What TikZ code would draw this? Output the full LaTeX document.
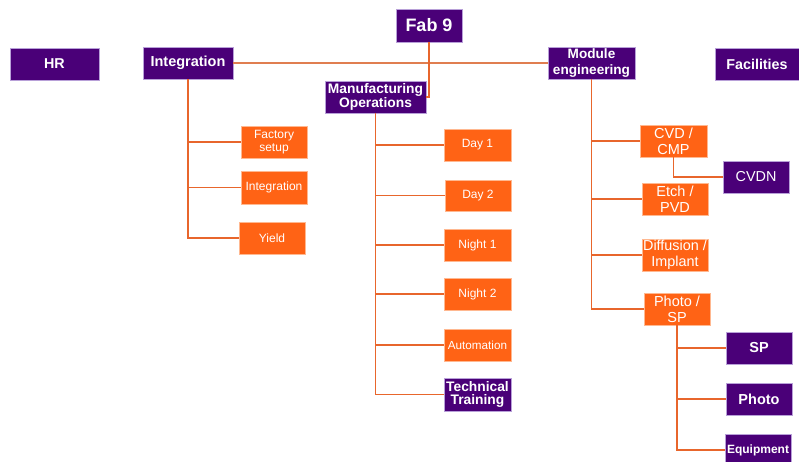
\documentclass[tikz,border=0pt]{standalone}
\usepackage{fontspec}
\setmainfont{Liberation Sans}
\definecolor{purp}{HTML}{4A0078}
\definecolor{purpedge}{HTML}{B8A0D8}
\definecolor{orng}{HTML}{FF6315}
\definecolor{orngedge}{HTML}{FFB890}
\definecolor{link}{HTML}{E8662C}
\definecolor{linklight}{HTML}{E07E50}
\tikzset{
  pbox/.style={fill=purp, draw=purpedge, line width=0.6pt, text=white, font=\bfseries\fontsize{13}{13}\selectfont, align=center, inner sep=0pt},
  obox/.style={fill=orng, draw=orngedge, line width=0.6pt, text=white, font=\fontsize{12}{12.7}\selectfont, align=center, inner sep=0pt},
  conn/.style={draw=link, line width=1.5pt},
  sz/.style 2 args={minimum width=#1pt, minimum height=#2pt}
}
\begin{document}
\begin{tikzpicture}[x=1pt,y=-1pt]
\clip (0,0) rectangle (799,462);
\useasboundingbox (0,0) rectangle (799,462);
% top level
\node[pbox, sz={66}{33}, font=\bfseries\fontsize{18}{18}\selectfont] (fab) at (429,25.5) {Fab 9};
\node[pbox, sz={89}{32}, font=\bfseries\fontsize{14.3}{14}\selectfont] (hr) at (54.5,64) {HR};
\node[pbox, sz={90}{32}, font=\bfseries\fontsize{14.5}{14}\selectfont] (integ) at (188,63) {Integration};
\node[pbox, sz={101}{32}, font=\bfseries\fontsize{13.8}{14}\selectfont] (mo) at (375.5,97) {Manufacturing\\Operations};
\node[pbox, sz={87}{32}, font=\bfseries\fontsize{13.6}{16}\selectfont] (me) at (591.5,63) {Module\\engineering};
\node[pbox, sz={84}{32}, font=\bfseries\fontsize{14.3}{14}\selectfont] (fac) at (757,64) {Facilities};
% integration children
\node[obox, sz={66}{32}] (fs) at (274,142) {Factory\\setup};
\node[obox, sz={66}{33}] (int2) at (274,187.5) {Integration};
\node[obox, sz={66}{32}] (yield) at (272,238) {Yield};
% manufacturing children
\node[obox, sz={67}{32}] (d1) at (477.5,145) {Day 1};
\node[obox, sz={66}{31}] (d2) at (478,195.5) {Day 2};
\node[obox, sz={67}{32}] (n1) at (477.5,245) {Night 1};
\node[obox, sz={67}{32}] (n2) at (477.5,294) {Night 2};
\node[obox, sz={67}{32}, font=\fontsize{11.7}{12}\selectfont] (auto) at (477.5,345) {Automation};
\node[pbox, sz={67}{33}, font=\bfseries\fontsize{13.8}{13.5}\selectfont] (tt) at (477.5,394.5) {Technical\\Training};
% module engineering children
\node[obox, sz={67}{32}, font=\fontsize{14.5}{15.7}\selectfont] (cvd) at (673.5,141) {CVD /\\CMP};
\node[pbox, sz={66}{32}, font=\fontsize{14.4}{15}\selectfont] (cvdn) at (756,177) {CVDN};
\node[obox, sz={66}{32}, font=\fontsize{14.5}{15.7}\selectfont] (etch) at (675,199) {Etch /\\PVD};
\node[obox, sz={66}{32}, font=\fontsize{14.4}{15.7}\selectfont] (diff) at (675,255) {Diffusion /\\Implant};
\node[obox, sz={66}{32}, font=\fontsize{14.5}{15.7}\selectfont] (psp) at (677,309) {Photo /\\SP};
\node[pbox, sz={66}{32}, font=\bfseries\fontsize{14.5}{15}\selectfont] (sp) at (759,348) {SP};
\node[pbox, sz={66}{32}, font=\bfseries\fontsize{14.5}{15}\selectfont] (photo) at (759,399) {Photo};
\node[pbox, sz={66}{32}, font=\bfseries\fontsize{12}{13}\selectfont] (equip) at (758,450) {Equipment};
% connectors
\draw[conn, draw=linklight] (integ.east) -- (me.west);
\draw[conn] (fab.south) |- (mo.east);
\foreach \c in {fs,int2,yield} \draw[conn] (integ.south) |- (\c.west);
\foreach \c in {d1,d2,n1,n2,auto,tt} \draw[conn] (mo.south) |- (\c.west);
\foreach \c in {cvd,etch,diff,psp} \draw[conn] (me.south) |- (\c.west);
\draw[conn] (cvd.south) |- (cvdn.west);
\foreach \c in {sp,photo,equip} \draw[conn] (psp.south) |- (\c.west);
\end{tikzpicture}
\end{document}
